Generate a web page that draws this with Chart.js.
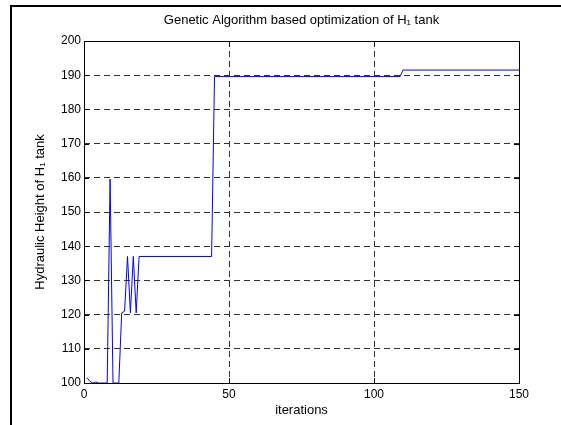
<!DOCTYPE html>
<html>
<head>
<meta charset="utf-8">
<script src="https://cdn.jsdelivr.net/npm/chart.js@4"></script>
<style>
  html, body { margin: 0; padding: 0; background: #fff; }
  #wrap { width: 561px; height: 425px; }
</style>
</head>
<body>
<div id="wrap"><canvas id="gaChart" width="561" height="425"></canvas></div>
<script>
// iteration numbers and best hydraulic height
const iterations = [1, 2, 3, 4, 5, 6, 7, 8, 9, 10, 11, 12, 13, 14, 15, 16, 17, 18, 19,
  44, 45, 109, 110, 150];
const heights = [101.6, 100.5, 100, 100.3, 100, 100, 100, 100, 159.6, 100, 100, 100,
  120.5, 121, 137, 120.5, 137, 120.5, 137, 137, 189.6, 189.6, 191.5, 191.5];

const xTicks = [0, 50, 100, 150];
const yTicks = [100, 110, 120, 130, 140, 150, 160, 170, 180, 190, 200];

const chartTitle = "Genetic Algorithm based optimization of H\u2081 tank";
const FONT = "'Liberation Sans', Arial, sans-serif";

// white page, frame lines at top and left, title over the axes
const framePlugin = {
  id: "figureFrame",
  beforeDraw: (chart) => {
    const { ctx, chartArea: a } = chart;
    ctx.save();
    ctx.fillStyle = "white";
    ctx.fillRect(0, 0, chart.width, chart.height);
    ctx.strokeStyle = "black";
    ctx.lineWidth = 2;
    ctx.beginPath();
    ctx.moveTo(11, chart.height);
    ctx.lineTo(11, 6);
    ctx.lineTo(chart.width, 6);
    ctx.stroke();
    ctx.fillStyle = "black";
    ctx.font = "13px " + FONT;
    ctx.textAlign = "center";
    ctx.textBaseline = "middle";
    ctx.fillText(chartTitle, (a.left + a.right) / 2, 20);
    ctx.restore();
  },
  afterDraw: (chart) => {
    // axes box and inward ticks, matlab style
    const { ctx, chartArea: a, scales } = chart;
    ctx.save();
    ctx.strokeStyle = "black";
    ctx.lineWidth = 1;
    ctx.strokeRect(Math.round(a.left) + 0.5, Math.round(a.top) + 0.5,
      Math.round(a.right - a.left), Math.round(a.bottom - a.top));
    ctx.beginPath();
    yTicks.forEach((v) => {
      const y = Math.round(scales.y.getPixelForValue(v)) + 0.5;
      ctx.moveTo(a.left, y); ctx.lineTo(a.left + 5, y);
      ctx.moveTo(a.right, y); ctx.lineTo(a.right - 5, y);
    });
    xTicks.forEach((v) => {
      const x = Math.round(scales.x.getPixelForValue(v)) + 0.5;
      ctx.moveTo(x, a.bottom); ctx.lineTo(x, a.bottom - 5);
      ctx.moveTo(x, a.top); ctx.lineTo(x, a.top + 5);
    });
    ctx.stroke();
    ctx.restore();
  },
};

const ctx = document.getElementById("gaChart").getContext("2d");
new Chart(ctx, {
  type: "line",
  data: {
    datasets: [
      {
        data: iterations.map((it, i) => ({ x: it, y: heights[i] })),
        borderColor: "#0000ff",
        borderWidth: 1,
        pointRadius: 0,
        tension: 0,
        fill: false,
      },
    ],
  },
  options: {
    responsive: false,
    animation: false,
    devicePixelRatio: 1,
    layout: { padding: { top: 41, right: 42, bottom: 0, left: 0 } },
    plugins: {
      legend: { display: false },
      tooltip: { enabled: false },
      title: { display: false },
    },
    scales: {
      x: {
        type: "linear",
        min: 0,
        max: 150,
        afterBuildTicks: (scale) => { scale.ticks = xTicks.map((v) => ({ value: v })); },
        afterFit: (scale) => { scale.height = 42; },
        ticks: { color: "black", padding: 4, font: { family: FONT, size: 12 } },
        grid: { color: "#333", lineWidth: 1, drawTicks: false },
        border: { display: false, dash: [6, 4] },
        title: {
          display: true,
          text: "iterations",
          color: "black",
          font: { family: FONT, size: 13 },
          padding: { top: 4, bottom: 7.2 },
        },
      },
      y: {
        type: "linear",
        min: 100,
        max: 200,
        afterBuildTicks: (scale) => { scale.ticks = yTicks.map((v) => ({ value: v })); },
        afterFit: (scale) => { scale.width = 84; },
        ticks: { color: "black", padding: 3, font: { family: FONT, size: 12 } },
        grid: { color: "#333", lineWidth: 1, drawTicks: false },
        border: { display: false, dash: [6, 4] },
        title: {
          display: true,
          text: "Hydraulic Height of H\u2081 tank",
          color: "black",
          font: { family: FONT, size: 13 },
          padding: { top: 32.2, bottom: 4 },
        },
      },
    },
  },
  plugins: [framePlugin],
});
</script>
</body>
</html>
